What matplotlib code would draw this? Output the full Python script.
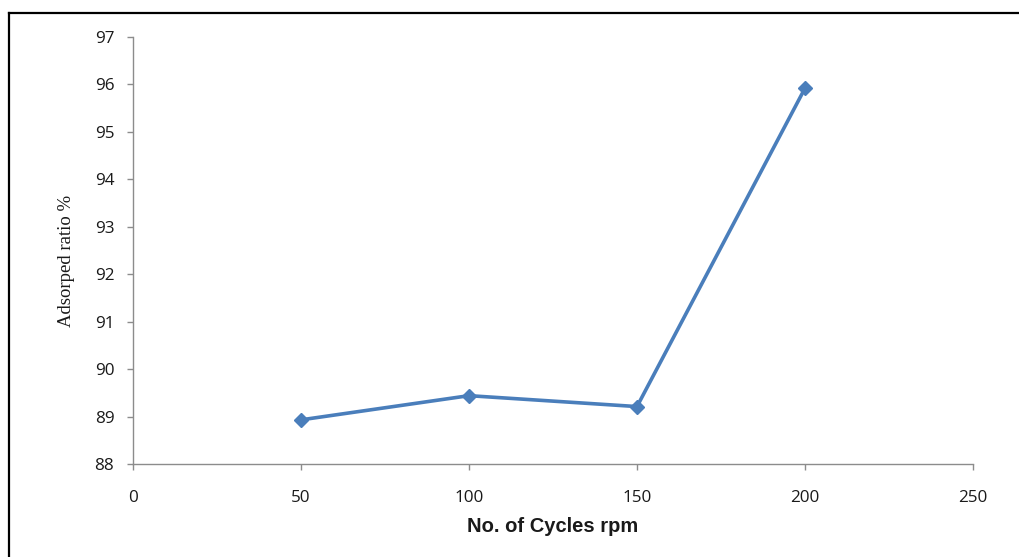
import matplotlib.pyplot as plt
from matplotlib.lines import Line2D

# agitation speed vs adsorption
ciclos = [50, 100, 150, 200]
adsorcion = [88.93, 89.44, 89.21, 95.92]

fig = plt.figure(figsize=(10.2, 5.57), dpi=100)
ax = fig.add_axes([0.1304, 0.1670, 0.8235, 0.7666])

ax.plot(ciclos, adsorcion, color='#4a7ebb', linewidth=2.6, marker='D', markersize=7.5,
        markerfacecolor='#4a7ebb', markeredgecolor='#4a7ebb')

ax.set_xlim(0, 250)
ax.set_ylim(88, 97)
ax.set_xticks([0, 50, 100, 150, 200, 250])
ax.set_yticks(range(88, 98))

for lado in ['top', 'right']:
    ax.spines[lado].set_visible(False)
for lado in ['left', 'bottom']:
    ax.spines[lado].set_color('#8c8c8c')
    ax.spines[lado].set_linewidth(1.0)

ax.tick_params(axis='both', colors='#8c8c8c', length=4.5, width=1.0, direction='out')
ax.tick_params(axis='x', pad=14, labelcolor='#1a1a1a', labelsize=12.3)
ax.tick_params(axis='y', pad=9, labelcolor='#1a1a1a', labelsize=12.3)
for t in ax.get_xticklabels() + ax.get_yticklabels():
    t.set_family('Open Sans')

ax.set_xlabel('No. of Cycles rpm', family='Liberation Sans', fontweight='bold', fontsize=14.5,
              color='#1a1a1a', va='center')
ax.xaxis.set_label_coords(0.5, -0.1475)
ax.set_ylabel('Adsorped ratio %', family='Liberation Serif', fontsize=13.5, color='#1a1a1a',
              va='center')
ax.yaxis.set_label_coords(-0.079, 0.475)

# marco negro: solo lineas arriba e izquierda (el resto queda fuera del recorte)
x0 = 9.5 / 1020
y0 = 1 - 12.5 / 557
fig.add_artist(Line2D([x0, 1.0], [y0, y0], transform=fig.transFigure, color='black', linewidth=1.6))
fig.add_artist(Line2D([x0, x0], [0.0, y0], transform=fig.transFigure, color='black', linewidth=1.6))

fig.savefig('out.png', dpi=100)
